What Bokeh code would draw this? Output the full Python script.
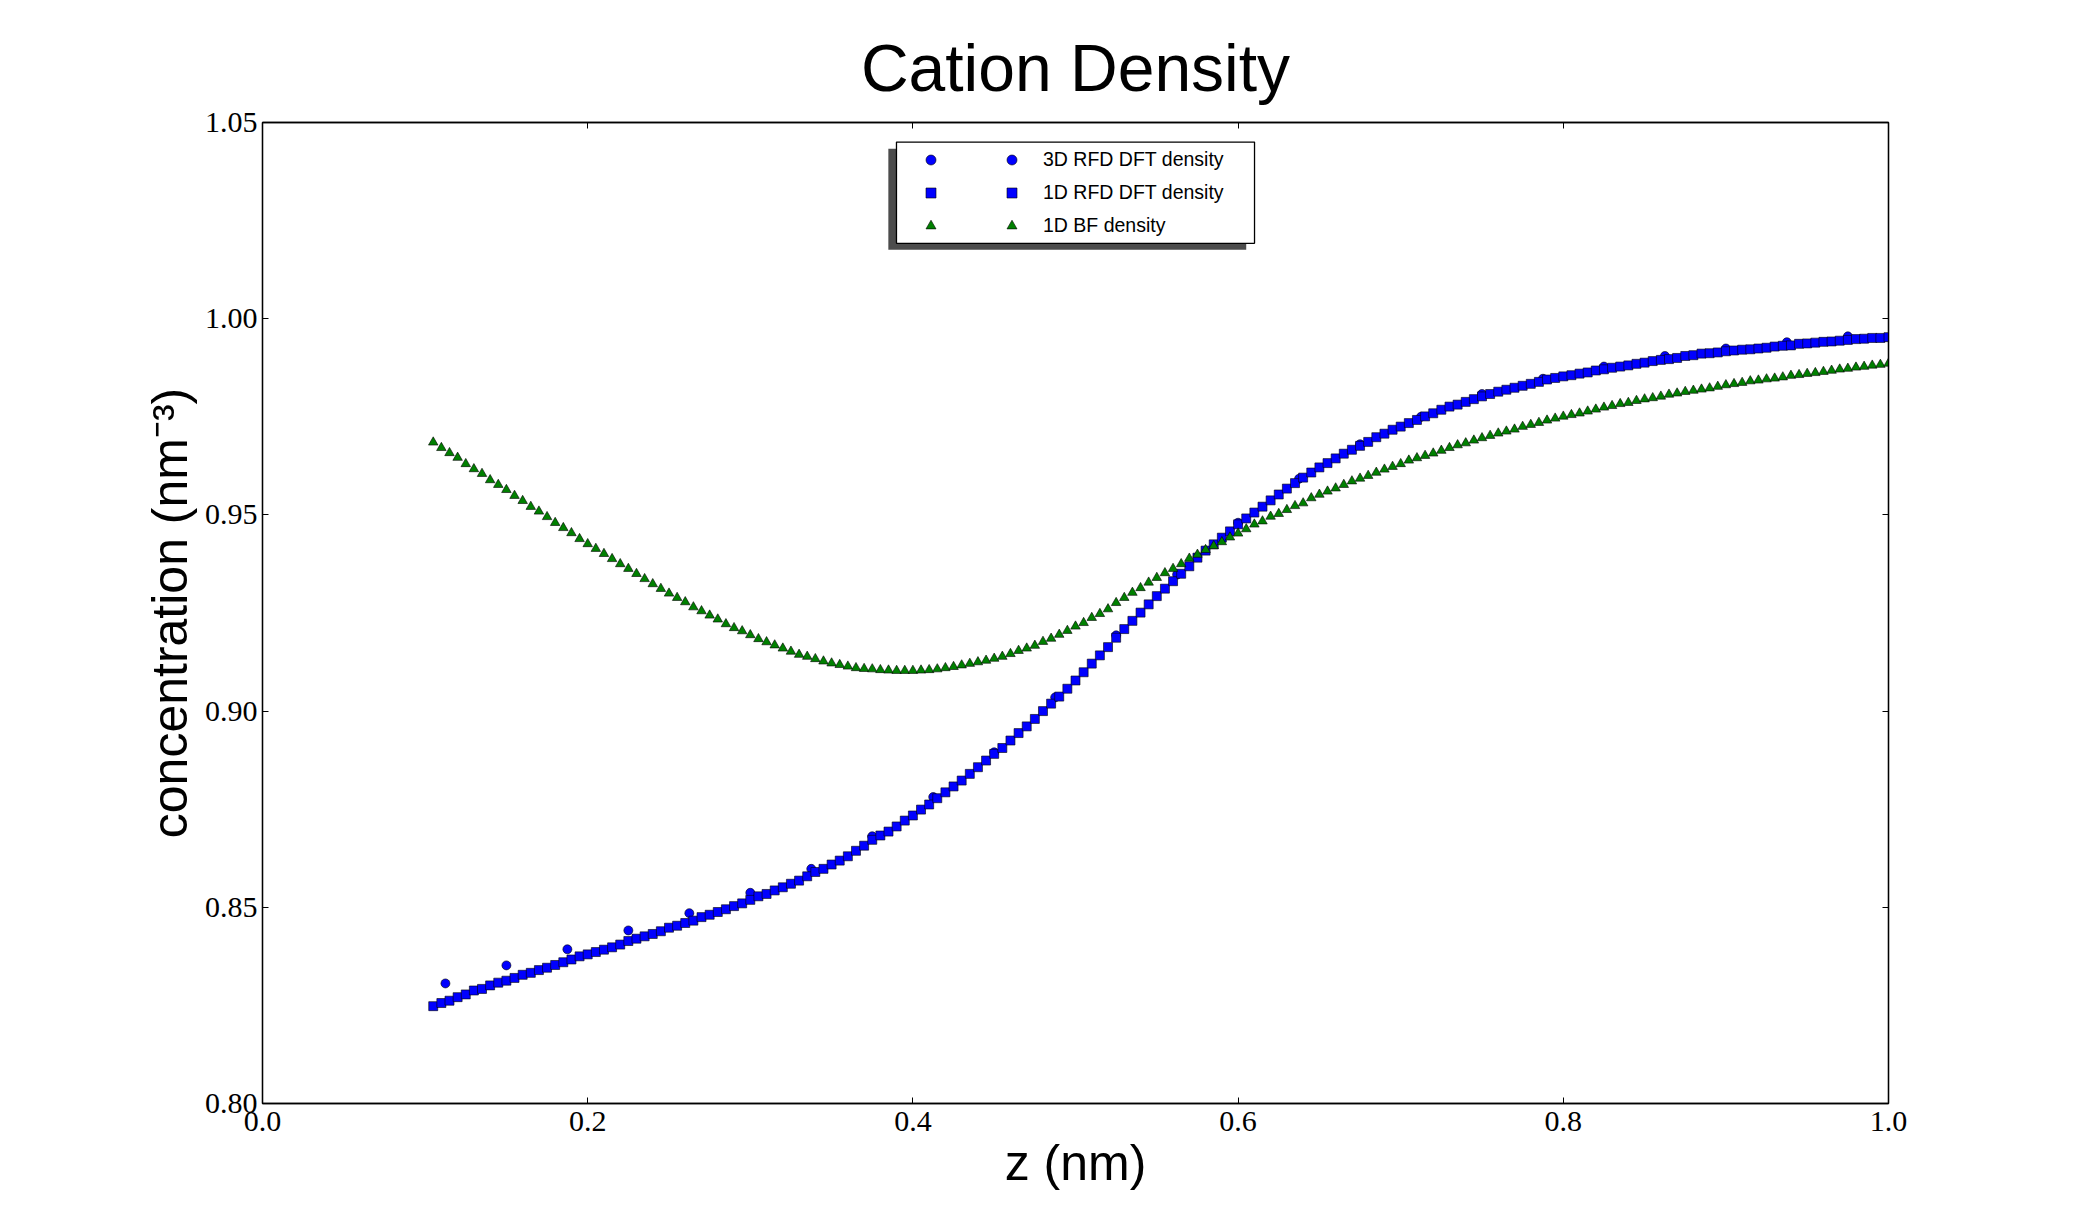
from bokeh.plotting import figure
from bokeh.models import (Range1d, LinearAxis, FixedTicker, NumeralTickFormatter,
                          Legend, LegendItem, BoxAnnotation, ColumnDataSource,
                          CustomJSTickFormatter)
from bokeh.embed import file_html
from bokeh.resources import INLINE

# ---------------- data ----------------
title_text = "Cation Density"
x_label = "z (nm)"
y_label = "concentration (nm\u207b\u00b3)"
series_names = ["3D RFD DFT density", "1D RFD DFT density", "1D BF density"]
x_ticks = [0.0, 0.2, 0.4, 0.6, 0.8, 1.0]
y_ticks = [0.80, 0.85, 0.90, 0.95, 1.00, 1.05]

# 1D grid (shared by the 1D RFD DFT and 1D BF curves)
z_grid = [
    0.105, 0.110, 0.115, 0.120, 0.125, 0.130, 0.135, 0.140, 0.145, 0.150,
    0.155, 0.160, 0.165, 0.170, 0.175, 0.180, 0.185, 0.190, 0.195, 0.200,
    0.205, 0.210, 0.215, 0.220, 0.225, 0.230, 0.235, 0.240, 0.245, 0.250,
    0.255, 0.260, 0.265, 0.270, 0.275, 0.280, 0.285, 0.290, 0.295, 0.300,
    0.305, 0.310, 0.315, 0.320, 0.325, 0.330, 0.335, 0.340, 0.345, 0.350,
    0.355, 0.360, 0.365, 0.370, 0.375, 0.380, 0.385, 0.390, 0.395, 0.400,
    0.405, 0.410, 0.415, 0.420, 0.425, 0.430, 0.435, 0.440, 0.445, 0.450,
    0.455, 0.460, 0.465, 0.470, 0.475, 0.480, 0.485, 0.490, 0.495, 0.500,
    0.505, 0.510, 0.515, 0.520, 0.525, 0.530, 0.535, 0.540, 0.545, 0.550,
    0.555, 0.560, 0.565, 0.570, 0.575, 0.580, 0.585, 0.590, 0.595, 0.600,
    0.605, 0.610, 0.615, 0.620, 0.625, 0.630, 0.635, 0.640, 0.645, 0.650,
    0.655, 0.660, 0.665, 0.670, 0.675, 0.680, 0.685, 0.690, 0.695, 0.700,
    0.705, 0.710, 0.715, 0.720, 0.725, 0.730, 0.735, 0.740, 0.745, 0.750,
    0.755, 0.760, 0.765, 0.770, 0.775, 0.780, 0.785, 0.790, 0.795, 0.800,
    0.805, 0.810, 0.815, 0.820, 0.825, 0.830, 0.835, 0.840, 0.845, 0.850,
    0.855, 0.860, 0.865, 0.870, 0.875, 0.880, 0.885, 0.890, 0.895, 0.900,
    0.905, 0.910, 0.915, 0.920, 0.925, 0.930, 0.935, 0.940, 0.945, 0.950,
    0.955, 0.960, 0.965, 0.970, 0.975, 0.980, 0.985, 0.990, 0.995, 1.000,
]

rfd1d_density = [
    0.8248, 0.8256, 0.8262, 0.8271, 0.8278, 0.8288, 0.8292, 0.8301, 0.8308, 0.8313,
    0.8320, 0.8328, 0.8333, 0.8340, 0.8346, 0.8353, 0.8360, 0.8367, 0.8375, 0.8380,
    0.8386, 0.8392, 0.8398, 0.8405, 0.8414, 0.8420, 0.8426, 0.8432, 0.8439, 0.8448,
    0.8453, 0.8460, 0.8466, 0.8475, 0.8481, 0.8488, 0.8495, 0.8503, 0.8510, 0.8519,
    0.8528, 0.8534, 0.8543, 0.8551, 0.8560, 0.8568, 0.8579, 0.8590, 0.8598, 0.8609,
    0.8619, 0.8630, 0.8644,
    0.8657, 0.8672, 0.8683, 0.8693, 0.8706, 0.8721, 0.8734, 0.8749, 0.8762, 0.8778,
    0.8793, 0.8808, 0.8823, 0.8840, 0.8857, 0.8874, 0.8891, 0.8906, 0.8925, 0.8944,
    0.8961, 0.8980, 0.9000, 0.9019, 0.9037, 0.9057, 0.9078, 0.9099, 0.9121, 0.9142,
    0.9163, 0.9187, 0.9209, 0.9230, 0.9251, 0.9272, 0.9293, 0.9312, 0.9331, 0.9350,
    0.9369, 0.9391, 0.9409, 0.9425, 0.9442, 0.9458, 0.9476, 0.9491, 0.9506, 0.9521,
    0.9537, 0.9552, 0.9567,
    0.9581, 0.9595, 0.9608, 0.9621, 0.9632, 0.9644, 0.9656, 0.9666, 0.9676, 0.9686,
    0.9698, 0.9707, 0.9717, 0.9725, 0.9734, 0.9742, 0.9751, 0.9759, 0.9768, 0.9776,
    0.9781, 0.9788, 0.9795, 0.9802, 0.9808, 0.9814, 0.9819, 0.9824, 0.9829, 0.9834,
    0.9839, 0.9845, 0.9849, 0.9853, 0.9856, 0.9860, 0.9863, 0.9868, 0.9871, 0.9875,
    0.9878, 0.9881, 0.9885, 0.9888, 0.9892, 0.9895, 0.9897, 0.9900, 0.9905, 0.9907,
    0.9911, 0.9912, 0.9914, 0.9917, 0.9919, 0.9921, 0.9922, 0.9924, 0.9926, 0.9929,
    0.9931, 0.9932, 0.9936, 0.9937, 0.9939, 0.9941, 0.9942, 0.9944, 0.9946, 0.9948,
    0.9949, 0.9951, 0.9951, 0.9953,
]

bf1d_density = [
    0.9685, 0.9671, 0.9658, 0.9646, 0.9630, 0.9617, 0.9605, 0.9589, 0.9577, 0.9564,
    0.9549, 0.9536, 0.9521, 0.9509, 0.9495, 0.9480, 0.9467, 0.9454, 0.9439, 0.9426,
    0.9414, 0.9401, 0.9388, 0.9375, 0.9363, 0.9350, 0.9337, 0.9324, 0.9312, 0.9300,
    0.9289, 0.9278, 0.9265, 0.9255, 0.9244, 0.9234, 0.9222, 0.9212, 0.9204, 0.9194,
    0.9184, 0.9176, 0.9168, 0.9160, 0.9152, 0.9144, 0.9139, 0.9133, 0.9127, 0.9122,
    0.9118, 0.9114, 0.9110, 0.9108,
    0.9107, 0.9105, 0.9104, 0.9103, 0.9103, 0.9103, 0.9104, 0.9105, 0.9107, 0.9110,
    0.9113, 0.9117, 0.9121, 0.9125, 0.9129, 0.9134, 0.9139, 0.9146, 0.9154, 0.9160,
    0.9167, 0.9177, 0.9185, 0.9195, 0.9205, 0.9216, 0.9225, 0.9238, 0.9248, 0.9260,
    0.9276, 0.9289, 0.9302, 0.9314, 0.9328, 0.9340, 0.9352, 0.9363, 0.9375, 0.9389,
    0.9399, 0.9411, 0.9421, 0.9431, 0.9443, 0.9453, 0.9464, 0.9476, 0.9484, 0.9496,
    0.9503, 0.9513, 0.9523, 0.9530,
    0.9543, 0.9552, 0.9560, 0.9568, 0.9577, 0.9586, 0.9593, 0.9600, 0.9608, 0.9616,
    0.9623, 0.9630, 0.9639, 0.9645, 0.9651, 0.9657, 0.9664, 0.9671, 0.9678, 0.9683,
    0.9690, 0.9696, 0.9702, 0.9708, 0.9713, 0.9718, 0.9725, 0.9730, 0.9735, 0.9741,
    0.9746, 0.9751, 0.9755, 0.9759, 0.9764, 0.9769, 0.9774, 0.9778, 0.9783, 0.9786,
    0.9791, 0.9795, 0.9798, 0.9802, 0.9807, 0.9810, 0.9814, 0.9817, 0.9820, 0.9823,
    0.9827, 0.9831, 0.9834, 0.9837, 0.9841, 0.9843, 0.9846, 0.9848, 0.9851, 0.9855,
    0.9857, 0.9860, 0.9862, 0.9865, 0.9868, 0.9871, 0.9873, 0.9876, 0.9878, 0.9881,
    0.9883, 0.9886,
]

# 3D grid (coarser)
rfd3d_z = [0.1125, 0.1500, 0.1875, 0.2250, 0.2625, 0.3000, 0.3375, 0.3750,
           0.4125, 0.4500, 0.4875, 0.5250, 0.5625, 0.6000, 0.6375, 0.6750,
           0.7125, 0.7500, 0.7875, 0.8250, 0.8625, 0.9000, 0.9375, 0.9750]
rfd3d_density = [0.8306, 0.8352, 0.8393, 0.8441, 0.8485, 0.8537, 0.8598, 0.8681,
                 0.8781, 0.8895, 0.9035, 0.9193, 0.9348, 0.9480, 0.9592, 0.9680,
                 0.9750, 0.9808, 0.9847, 0.9878, 0.9905, 0.9924, 0.9940, 0.9955]

# ---------------- figure ----------------
SANS = "Liberation Sans"
SERIF = "Liberation Serif"

p = figure(width=2081, height=1210, output_backend="svg", toolbar_location=None,
           x_range=Range1d(0.0, 1.0), y_range=Range1d(0.80, 1.05),
           min_border_left=262, min_border_right=193,
           min_border_top=122, min_border_bottom=107,
           background_fill_color="white", border_fill_color="white")

p.xgrid.visible = False
p.ygrid.visible = False
p.outline_line_color = "black"
p.outline_line_width = 1.3

p.title.text = title_text
p.title.align = "center"
p.title.text_font = SANS
p.title.text_font_size = "66px"
p.title.text_font_style = "normal"
p.title.text_color = "black"
p.title.standoff = 36

def style_axis(ax, show_labels):
    ax.axis_line_color = "black"
    ax.axis_line_width = 1.3
    ax.major_tick_in = 6
    ax.major_tick_out = 0
    ax.major_tick_line_color = "black"
    ax.major_tick_line_width = 1
    ax.minor_tick_line_color = None
    ax.major_label_text_font = SERIF
    ax.major_label_text_font_size = "30px"
    ax.major_label_text_color = "black"
    if not show_labels:
        ax.formatter = CustomJSTickFormatter(code="return ''")
        ax.major_label_text_font_size = "1px"

xa = p.xaxis[0]
xa.ticker = FixedTicker(ticks=x_ticks)
xa.formatter = NumeralTickFormatter(format="0.0")
style_axis(xa, True)
xa.major_label_standoff = 8
xa.axis_label = x_label
xa.axis_label_text_font = SANS
xa.axis_label_text_font_size = "50px"
xa.axis_label_text_font_style = "normal"
xa.axis_label_text_color = "black"
xa.axis_label_standoff = 1

ya = p.yaxis[0]
ya.ticker = FixedTicker(ticks=y_ticks)
ya.formatter = NumeralTickFormatter(format="0.00")
style_axis(ya, True)
ya.major_label_standoff = 5
ya.axis_label = y_label
ya.axis_label_text_font = SANS
ya.axis_label_text_font_size = "50px"
ya.axis_label_text_font_style = "normal"
ya.axis_label_text_color = "black"
ya.axis_label_standoff = 4

top_ax = LinearAxis(ticker=FixedTicker(ticks=x_ticks))
style_axis(top_ax, False)
p.add_layout(top_ax, "above")
right_ax = LinearAxis(ticker=FixedTicker(ticks=y_ticks))
style_axis(right_ax, False)
p.add_layout(right_ax, "right")

src_3d = ColumnDataSource(dict(z=rfd3d_z, c=rfd3d_density))
src_1d = ColumnDataSource(dict(z=z_grid, rfd=rfd1d_density, bf=bf1d_density))

r_circ = p.scatter(x="z", y="c", source=src_3d, marker="circle", size=9,
                   fill_color="#0000ff", line_color="#000000", line_width=0.6)
r_sq = p.scatter(x="z", y="rfd", source=src_1d, marker="square", size=9,
                 fill_color="#0000ff", line_color="#000000", line_width=0.6)
r_tri = p.scatter(x="z", y="bf", source=src_1d, marker="triangle", size=9.5,
                  fill_color="#008000", line_color="#000000", line_width=0.6)

# legend frame with shadow (decoration, data units of the frame)
shadow = BoxAnnotation(left=0.3849, right=0.6050, bottom=1.0176, top=1.0433,
                       fill_color="#4c4c4c", fill_alpha=1.0, line_alpha=0.0)
box = BoxAnnotation(left=0.3899, right=0.6101, bottom=1.0192, top=1.0450,
                    fill_color="white", fill_alpha=1.0,
                    line_color="black", line_width=1.3, line_alpha=1.0)
p.add_layout(shadow)
p.add_layout(box)

renderers = [r_circ, r_sq, r_tri]
leg_a = Legend(items=[LegendItem(label=" ", renderers=[r]) for r in renderers],
               location=(656, 865), glyph_width=25, glyph_height=25,
               label_height=25, label_width=1, label_standoff=0,
               spacing=8, padding=0, margin=0,
               border_line_alpha=0.0, background_fill_alpha=0.0,
               label_text_font=SANS, label_text_font_size="19px")
leg_b = Legend(items=[LegendItem(label=n, renderers=[r]) for n, r in zip(series_names, renderers)],
               location=(737, 865), glyph_width=25, glyph_height=25,
               label_height=25, label_width=20, label_standoff=19,
               spacing=8, padding=0, margin=0,
               border_line_alpha=0.0, background_fill_alpha=0.0,
               label_text_font=SANS, label_text_font_size="19.5px",
               label_text_color="black")
p.add_layout(leg_a)
p.add_layout(leg_b)

html = file_html(p, INLINE, title="Cation Density")
with open("out.html", "w") as f:
    f.write(html)
